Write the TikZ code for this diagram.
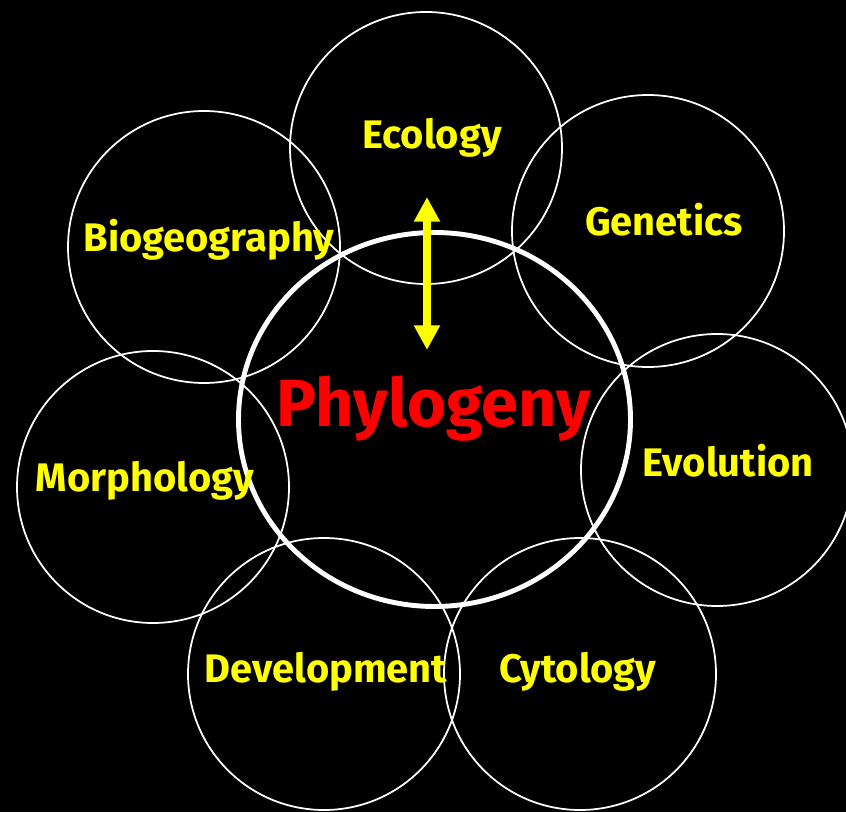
\documentclass[tikz,border=0pt]{standalone}
\usepackage{fontspec}
\usepackage{xcolor}
\setsansfont{Fira Sans}
\usetikzlibrary{positioning, arrows.meta, backgrounds}

\definecolor{topicyellow}{RGB}{255,255,0}
\definecolor{phylored}{RGB}{255,0,0}

\begin{document}
\begin{tikzpicture}[
    field/.style={draw=white, line width=1.5pt},
    core/.style={draw=white, line width=4.2pt},
    topic/.style={anchor=base, text=topicyellow, font=\sffamily\bfseries\fontsize{34}{40}\selectfont},
    link/.style={topicyellow, line width=6pt, {Triangle[width=21pt, length=21pt]}-{Triangle[width=21pt, length=21pt]}}
  ]
      \fill[black] (0, 0) rectangle (25.38, 24.36);
      \useasboundingbox (0, 0) rectangle (25.38, 24.36);

      % surrounding fields
      \draw[field] (12.78, 19.92) circle (4.08);
      \draw[field] (19.44, 17.43) circle (4.08);
      \draw[field] (6.12, 16.95) circle (4.08);
      \draw[field] (4.59, 9.75) circle (4.08);
      \draw[field] (21.51, 10.26) circle (4.08);
      \draw[field] (9.72, 4.14) circle (4.08);
      \draw[field] (17.40, 4.14) circle (4.08);

      % centre
      \draw[core] (13.035, 11.775) ellipse (5.88 and 5.61);

      \node[topic] (ecology) at (12.96, 19.89) {Ecology};
      \node[topic] (genetics) at (19.92, 17.28) {Genetics};
      \node[topic] (biogeo) at (6.27, 16.80) {Biogeography};
      \node[topic] (morph) at (4.35, 9.60) {Morphology};
      \node[topic] (evolution) at (21.84, 10.05) {Evolution};
      \node[topic] (devel) at (9.78, 3.90) {Development};
      \node[topic] (cytology) at (17.34, 3.90) {Cytology};

      \node[anchor=base, text=phylored, font=\sffamily\bfseries\fontsize{57}{64}\selectfont] (phylogeny) at (13.02, 11.55) {Phylogeny};

      \coordinate (arrowTop) at (12.81, 18.45);
      \coordinate (arrowBot) at (12.81, 13.86);
      \draw[link] (arrowBot) -- (arrowTop);
\end{tikzpicture}
\end{document}
